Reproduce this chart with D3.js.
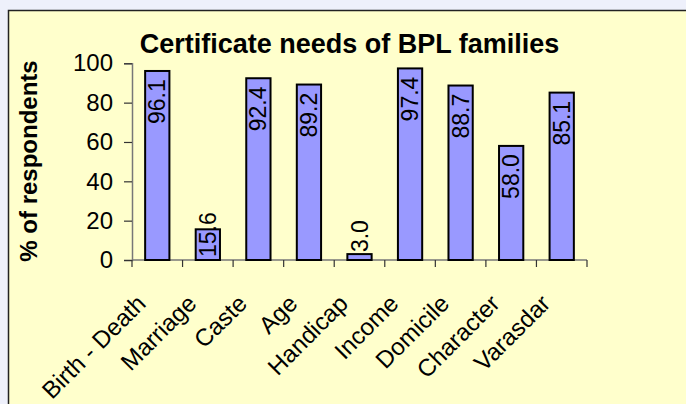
<!DOCTYPE html>
<html>
<head>
<meta charset="utf-8">
<script src="https://cdn.jsdelivr.net/npm/d3@7"></script>
<style>
  body { margin: 0; background: #eef0fb; }
  text { font-family: "Liberation Sans", Arial, sans-serif; fill: #000; }
</style>
</head>
<body>
<div id="chart"></div>
<script>
const categories = ["Birth - Death", "Marriage", "Caste", "Age", "Handicap", "Income", "Domicile", "Character", "Varasdar"]
const values = [96.1, 15.6, 92.4, 89.2, 3.0, 97.4, 88.7, 58.0, 85.1]
const yTicks = [0, 20, 40, 60, 80, 100]

const W = 686, H = 404
const plot = { left: 132, right: 587, top: 63.3, bottom: 260 }

const svg = d3.select("#chart").append("svg")
  .attr("width", W)
  .attr("height", H)

// yellow panel
svg.append("rect")
  .attr("x", 8.5).attr("y", 10.5)
  .attr("width", W).attr("height", H)
  .attr("fill", "#ffffcc")
  .attr("stroke", "#222")
  .attr("stroke-width", 1.5)

// scales
const x = d3.scaleBand().domain(categories).range([plot.left, plot.right]).padding(0)
const y = d3.scaleLinear().domain([0, 100]).range([plot.bottom, plot.top])

// y axis
const gy = svg.append("g")
  .attr("transform", `translate(${plot.left},0)`)
  .call(d3.axisLeft(y).tickValues(yTicks).tickSize(8).tickPadding(11))
gy.select(".domain").attr("stroke", "#777").attr("stroke-width", 1.5)
gy.selectAll(".tick line").attr("stroke", "#333").attr("stroke-width", 1.2)
gy.selectAll(".tick text").attr("font-size", 24).attr("font-family", "Liberation Sans, Arial, sans-serif")

// x axis: ticks sit between categories
const gx = svg.append("g")
  .attr("transform", `translate(0,${plot.bottom})`)
gx.append("line")
  .attr("x1", plot.left).attr("x2", plot.right)
  .attr("stroke", "#777").attr("stroke-width", 1.5)
const tickPos = categories.map((d) => x(d)).concat([x(categories[categories.length - 1]) + x.bandwidth()])
gx.selectAll("line.tick")
  .data(tickPos)
  .join("line")
  .attr("class", "tick")
  .attr("x1", (d) => d).attr("x2", (d) => d)
  .attr("y1", 0).attr("y2", 7)
  .attr("stroke", "#333").attr("stroke-width", 1.2)

// category labels, slanted
gx.selectAll("text.cat")
  .data(categories)
  .join("text")
  .attr("class", "cat")
  .attr("text-anchor", "end")
  .attr("font-size", 24)
  .attr("transform", (d) => `translate(${x(d) + x.bandwidth() / 2 - 10},${45}) rotate(-45)`)
  .text((d) => d)

// bars
const barW = x.bandwidth() * 0.48
const data = categories.map((c, i) => ({ cat: c, val: values[i] }))

svg.selectAll("rect.bar")
  .data(data)
  .join("rect")
  .attr("class", "bar")
  .attr("x", (d) => x(d.cat) + (x.bandwidth() - barW) / 2)
  .attr("width", barW)
  .attr("y", (d) => y(d.val))
  .attr("height", (d) => y(0) - y(d.val))
  .attr("fill", "#9999ff")
  .attr("stroke", "#000")
  .attr("stroke-width", 2)

// value labels, vertical
svg.selectAll("text.val")
  .data(data)
  .join("text")
  .attr("class", "val")
  .attr("font-size", 23)
  .attr("text-anchor", "start")
  .attr("transform", (d) => {
    const cx = x(d.cat) + x.bandwidth() / 2
    const top = y(d.val)
    const len = d.val.toFixed(1).length * 11.5
    let start
    if (y(0) - top < 10) start = top - 2          // tiny bar: label above it
    else start = Math.min(top + 7 + len, y(0) - 3) // inside the end, kept above the axis
    return `translate(${cx},${start}) rotate(-90)`
  })
  .attr("dy", "0.35em")
  .text((d) => d.val.toFixed(1))

// title
svg.append("text")
  .attr("x", 349.5).attr("y", 53)
  .attr("text-anchor", "middle")
  .attr("font-size", 27)
  .attr("font-weight", "bold")
  .text("Certificate needs of BPL families")

// y axis title
svg.append("text")
  .attr("transform", "translate(37,161) rotate(-90)")
  .attr("text-anchor", "middle")
  .attr("font-size", 24)
  .attr("font-weight", "bold")
  .text("% of respondents")
</script>
</body>
</html>
